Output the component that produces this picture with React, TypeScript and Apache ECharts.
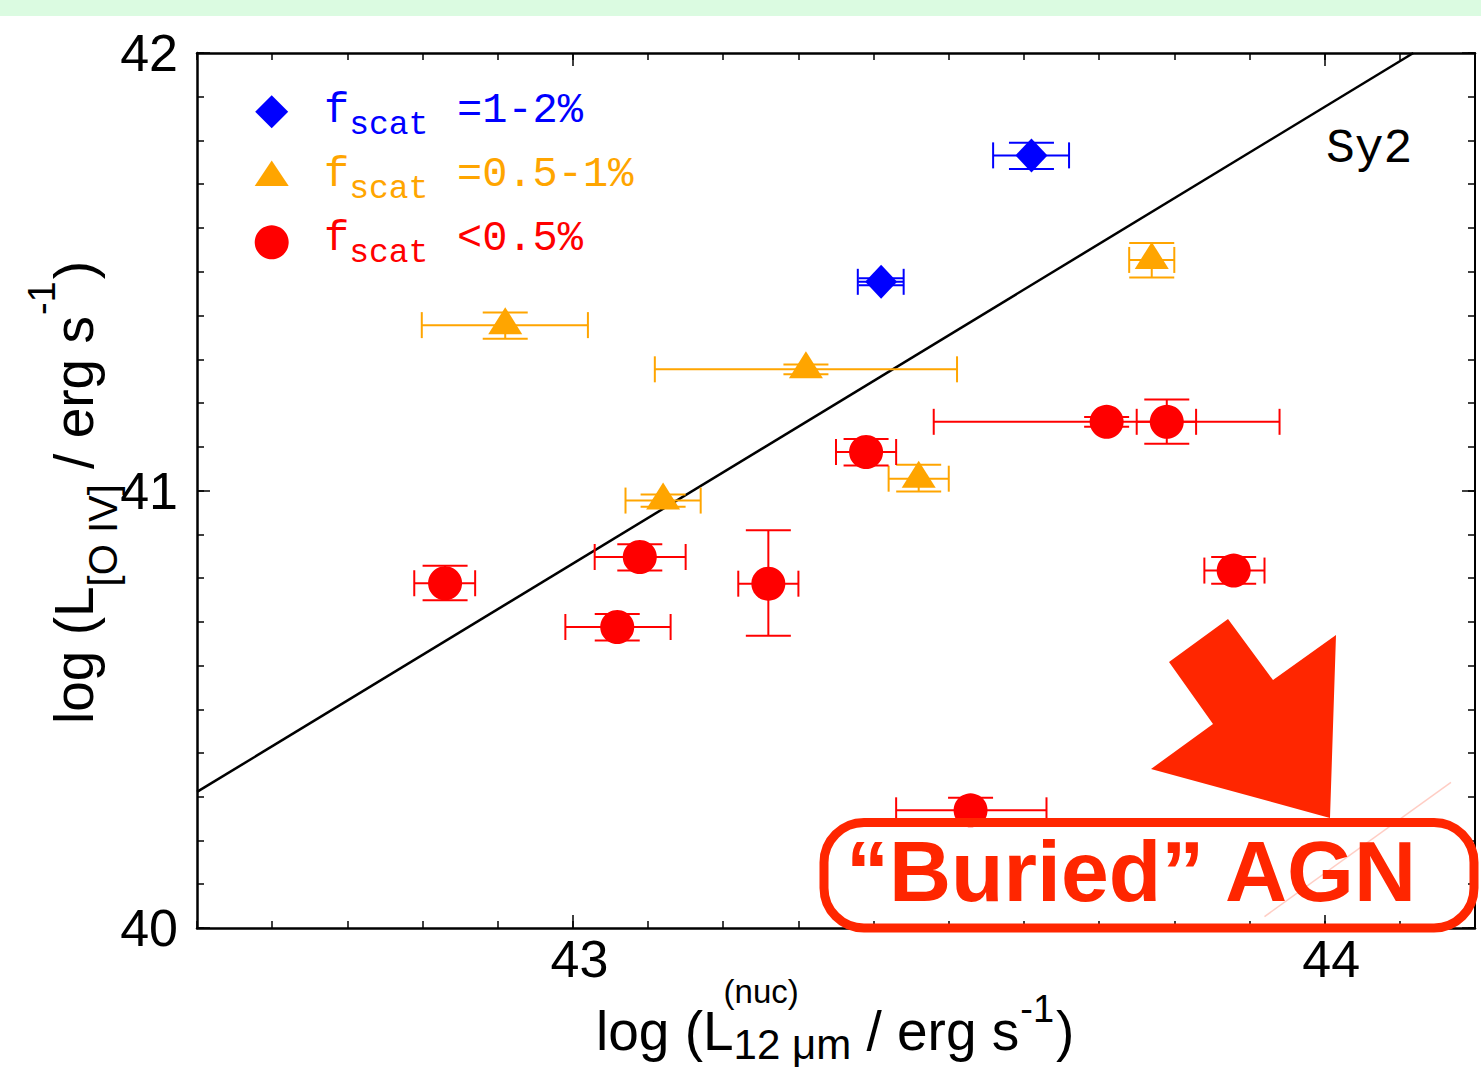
import React, { useEffect, useRef } from "react";
import * as echarts from "echarts";

// ---------- axes ----------
const X_MIN = 42.5;
const X_MAX = 44.2;
const Y_MIN = 40;
const Y_MAX = 42;
const X_MAJOR = [43, 44];
const Y_MAJOR = [40, 41, 42];
const MINOR_STEP = 0.1;

// ---------- data: [x, y, xLow, xHigh, yLow, yHigh] ----------
const BLUE_POINTS = [
  [43.61, 41.766, 43.559, 43.66, 41.735, 41.795],
  [43.41, 41.477, 43.379, 43.44, 41.469, 41.485],
];
const ORANGE_POINTS = [
  [42.91, 41.378, 42.799, 43.02, 41.347, 41.407],
  [43.31, 41.277, 43.109, 43.511, 41.266, 41.288],
  [43.12, 40.977, 43.07, 43.17, 40.963, 40.991],
  [43.77, 41.527, 43.74, 43.8, 41.487, 41.566],
  [43.46, 41.027, 43.42, 43.5, 40.998, 41.059],
];
const RED_POINTS = [
  [42.83, 40.788, 42.789, 42.87, 40.749, 40.828],
  [43.089, 40.848, 43.029, 43.15, 40.817, 40.877],
  [43.059, 40.688, 42.99, 43.13, 40.657, 40.718],
  [43.26, 40.787, 43.22, 43.3, 40.668, 40.909],
  [43.71, 41.157, 43.48, 43.94, 41.146, 41.168],
  [43.79, 41.157, 43.75, 43.829, 41.107, 41.208],
  [43.39, 41.088, 43.35, 43.43, 41.057, 41.118],
  [43.879, 40.817, 43.84, 43.92, 40.787, 40.848],
  [43.529, 40.269, 43.43, 43.63, 40.237, 40.298],
];
const SY2_LINE = [
  [42.5, 40.311],
  [44.118, 42.0],
];
const FAINT_LINE = [
  [43.92, 40.026],
  [44.168, 40.333],
];
const LEGEND_VALUES = ["=1-2%", "=0.5-1%", "<0.5%"];
const LEGEND_COLORS = ["#0000ff", "#ffa500", "#ff0000"];

const SANS = "'Liberation Sans', Arial, Helvetica, sans-serif";
const MONO = "'Liberation Mono', 'Courier New', monospace";
const ACCENT = "#ff2600";

let measureCtx: CanvasRenderingContext2D | null = null;
function tw(text: string, size: number, family: string, weight = "normal") {
  if (!measureCtx) measureCtx = document.createElement("canvas").getContext("2d");
  measureCtx!.font = `${weight} ${size}px ${family}`;
  return measureCtx!.measureText(text).width;
}

function textEl(
  text: string,
  x: number,
  baseline: number,
  size: number,
  family: string,
  color: string,
  align = "left",
  weight = "normal",
  z = 20
) {
  const k = family === MONO ? 0.267 : 0.3465;
  return {
    type: "text",
    x,
    y: baseline - k * size,
    z,
    silent: true,
    style: {
      text,
      fontSize: size,
      fontFamily: family,
      fontWeight: weight,
      fill: color,
      textAlign: align,
      verticalAlign: "middle",
      textVerticalAlign: "middle",
    },
  };
}

function errorBars(data: number[][], color: string) {
  return {
    type: "custom",
    xAxisIndex: 0,
    yAxisIndex: 0,
    data,
    encode: { x: 0, y: 1 },
    silent: true,
    z: 3,
    renderItem: (_params: any, api: any) => {
      const x = api.value(0);
      const y = api.value(1);
      const c = api.coord([x, y]);
      const xl = api.coord([api.value(2), y]);
      const xh = api.coord([api.value(3), y]);
      const yl = api.coord([x, api.value(4)]);
      const yh = api.coord([x, api.value(5)]);
      const capH = 13;
      const capW = 22.5;
      const style = { stroke: color, lineWidth: 2, fill: null };
      const ln = (x1: number, y1: number, x2: number, y2: number) => ({
        type: "line",
        shape: { x1, y1, x2, y2 },
        style,
      });
      return {
        type: "group",
        children: [
          ln(xl[0], c[1], xh[0], c[1]),
          ln(xl[0], c[1] - capH, xl[0], c[1] + capH),
          ln(xh[0], c[1] - capH, xh[0], c[1] + capH),
          ln(c[0], yl[1], c[0], yh[1]),
          ln(c[0] - capW, yl[1], c[0] + capW, yl[1]),
          ln(c[0] - capW, yh[1], c[0] + capW, yh[1]),
        ],
      };
    },
  };
}

const tickStyle = { color: "#000", width: 1.5 };

function makeAxis(
  min: number,
  max: number,
  position: string,
  major: boolean,
  labels: boolean,
  custom: number[],
  lineWidth: number
) {
  const a: any = {
    type: "value",
    min,
    max,
    position,
    splitLine: { show: false },
    axisLine: {
      show: major,
      onZero: false,
      lineStyle: { color: "#000", width: lineWidth },
    },
    axisTick: {
      show: true,
      inside: true,
      length: major ? 13 : 7,
      lineStyle: tickStyle,
    },
    axisLabel: { show: false },
  };
  if (major) {
    a.axisTick.customValues = custom;
  } else {
    a.interval = MINOR_STEP;
  }
  if (labels) {
    const isX = position === "bottom";
    a.axisLabel = {
      show: true,
      customValues: custom,
      fontSize: 52,
      fontFamily: SANS,
      color: "#000",
      margin: isX ? 5 : 19,
      padding: isX ? [0, 0, 0, 13] : 0,
      showMinLabel: true,
      showMaxLabel: true,
    };
  }
  return a;
}

function buildGraphics() {
  const els: any[] = [];
  // top green band
  els.push({
    type: "rect",
    shape: { x: 0, y: 0, width: 1481, height: 16 },
    style: { fill: "#dbfbe1" },
    z: 0,
    silent: true,
  });

  // legend
  const lx = 271.7;
  els.push({
    type: "polygon",
    shape: { points: [[lx, 95.2], [lx + 16.5, 111.7], [lx, 128.2], [lx - 16.5, 111.7]] },
    style: { fill: LEGEND_COLORS[0] },
    z: 20,
  });
  els.push({
    type: "polygon",
    shape: { points: [[lx, 160.5], [lx + 17, 186], [lx - 17, 186]] },
    style: { fill: LEGEND_COLORS[1] },
    z: 20,
  });
  els.push({
    type: "circle",
    shape: { cx: lx, cy: 242.3, r: 17 },
    style: { fill: LEGEND_COLORS[2] },
    z: 20,
  });
  const rowBase = [122, 186, 250.5];
  rowBase.forEach((b, i) => {
    const col = LEGEND_COLORS[i];
    els.push(textEl("f", 324, b, 42, MONO, col));
    els.push(textEl("scat", 324 + tw("f", 42, MONO), b + 12, 33, MONO, col));
    els.push(textEl(LEGEND_VALUES[i], 457, b, 42, MONO, col));
  });

  // Sy2
  els.push(textEl("Sy2", 1326, 162, 48, MONO, "#000"));

  const MAIN = 55;
  // x-axis title
  {
    const B = 1050;
    let cx = 596;
    els.push(textEl("log (L", cx, B, MAIN, SANS, "#000"));
    cx += tw("log (L", MAIN, SANS);
    els.push(textEl("(nuc)", cx - 10, 1003, 33, SANS, "#000"));
    els.push(textEl("12 \u03bcm", cx, 1059, 42, SANS, "#000"));
    cx += Math.max(tw("12 \u03bcm", 42, SANS), tw("(nuc)", 33, SANS));
    els.push(textEl(" / erg s", cx, B, MAIN, SANS, "#000"));
    cx += tw(" / erg s", MAIN, SANS);
    els.push(textEl("-1", cx + 1, 1022, 38, SANS, "#000"));
    cx += tw("-1", 38, SANS) + 3;
    els.push(textEl(")", cx, B, MAIN, SANS, "#000"));
  }

  // y-axis title (rotated)
  {
    const children: any[] = [];
    let lx2 = 0;
    children.push(textEl("log (L", lx2, 0, MAIN, SANS, "#000"));
    lx2 += tw("log (L", MAIN, SANS);
    children.push(textEl("[O IV]", lx2, 24, 40, SANS, "#000"));
    lx2 += tw("[O IV]", 40, SANS);
    children.push(textEl(" / erg s", lx2, 0, MAIN, SANS, "#000"));
    lx2 += tw(" / erg s", MAIN, SANS);
    children.push(textEl("-1", lx2 + 1, -38, 38, SANS, "#000"));
    lx2 += tw("-1", 38, SANS) + 3;
    children.push(textEl(")", lx2, 0, MAIN, SANS, "#000"));
    els.push({
      type: "group",
      x: 93,
      y: 724,
      rotation: Math.PI / 2,
      children,
      z: 20,
    });
  }

  // "Buried" AGN annotation
  els.push({
    type: "polygon",
    shape: {
      points: [
        [1169, 662],
        [1228, 619],
        [1273, 680],
        [1336, 635],
        [1330, 818],
        [1151, 769],
        [1213, 724],
      ],
    },
    style: { fill: ACCENT },
    z: 30,
    silent: true,
  });
  els.push({
    type: "rect",
    shape: { x: 824, y: 822.5, width: 650, height: 105.5, r: 40 },
    style: { fill: "none", stroke: ACCENT, lineWidth: 9 },
    z: 30,
    silent: true,
  });
  els.push(textEl("\u201cBuried\u201d AGN", 1131, 901, 86, SANS, ACCENT, "center", "bold", 31));
  return els;
}

export default function App() {
  const ref = useRef<HTMLDivElement>(null);
  useEffect(() => {
    if (!ref.current) return;
    const chart = echarts.init(ref.current, undefined, { renderer: "svg" });
    const option: any = {
      animation: false,
      backgroundColor: "#ffffff",
      grid: { left: 197, top: 53, width: 1278, height: 875, containLabel: false },
      xAxis: [
        makeAxis(X_MIN, X_MAX, "bottom", true, true, X_MAJOR, 2.5),
        makeAxis(X_MIN, X_MAX, "bottom", false, false, X_MAJOR, 2.5),
        makeAxis(X_MIN, X_MAX, "top", true, false, X_MAJOR, 2.5),
        makeAxis(X_MIN, X_MAX, "top", false, false, X_MAJOR, 2.5),
      ],
      yAxis: [
        makeAxis(Y_MIN, Y_MAX, "left", true, true, Y_MAJOR, 2.5),
        makeAxis(Y_MIN, Y_MAX, "left", false, false, Y_MAJOR, 2.5),
        makeAxis(Y_MIN, Y_MAX, "right", true, false, Y_MAJOR, 2),
        makeAxis(Y_MIN, Y_MAX, "right", false, false, Y_MAJOR, 2),
      ],
      series: [
        {
          type: "line",
          data: SY2_LINE,
          xAxisIndex: 0,
          yAxisIndex: 0,
          symbol: "none",
          lineStyle: { color: "#000", width: 2.5 },
          z: 2,
          silent: true,
        },
        {
          type: "line",
          data: FAINT_LINE,
          xAxisIndex: 0,
          yAxisIndex: 0,
          symbol: "none",
          lineStyle: { color: "rgba(255,90,60,0.3)", width: 1.5 },
          z: 2,
          silent: true,
        },
        errorBars(BLUE_POINTS, "#0000ff"),
        errorBars(ORANGE_POINTS, "#ffa500"),
        errorBars(RED_POINTS, "#ff0000"),
        {
          type: "scatter",
          data: BLUE_POINTS.map((p) => [p[0], p[1]]),
          xAxisIndex: 0,
          yAxisIndex: 0,
          symbol: "diamond",
          symbolSize: [32, 34],
          itemStyle: { color: "#0000ff", opacity: 1 },
          z: 4,
          silent: true,
        },
        {
          type: "scatter",
          data: ORANGE_POINTS.map((p) => [p[0], p[1]]),
          xAxisIndex: 0,
          yAxisIndex: 0,
          symbol: "triangle",
          symbolSize: [34, 27],
          symbolOffset: [0, -4.5],
          itemStyle: { color: "#ffa500", opacity: 1 },
          z: 4,
          silent: true,
        },
        {
          type: "scatter",
          data: RED_POINTS.map((p) => [p[0], p[1]]),
          xAxisIndex: 0,
          yAxisIndex: 0,
          symbol: "circle",
          symbolSize: 34,
          itemStyle: { color: "#ff0000", opacity: 1 },
          z: 4,
          silent: true,
        },
      ],
      graphic: { elements: buildGraphics() },
    };
    chart.setOption(option);
    return () => chart.dispose();
  }, []);
  return (
    <div
      ref={ref}
      style={{ position: "fixed", left: 0, top: 0, width: 1481, height: 1070, background: "#fff" }}
    />
  );
}
